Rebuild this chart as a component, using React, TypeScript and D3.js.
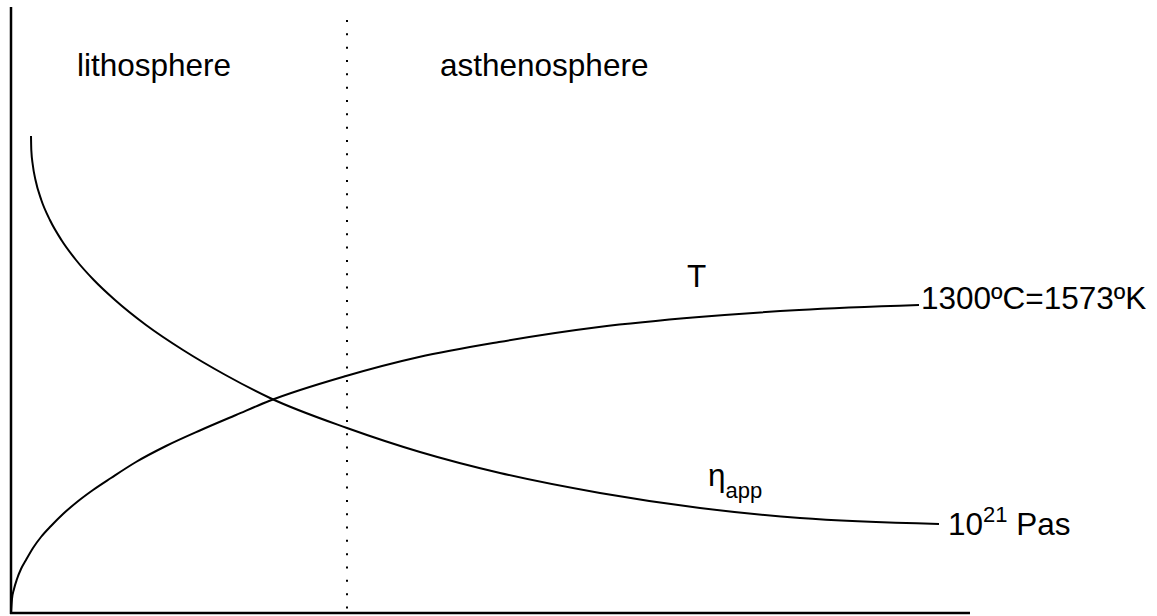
import React from "react";
import * as d3 from "d3";

// Horizontal position (distance from the left axis) and height above the bottom axis.
const tempX = [0, 1, 3, 6, 10, 15, 22, 30, 40, 52, 66, 82, 100, 125, 155, 190, 225, 258, 335, 408, 488, 588, 688, 788, 908];
const tempY = [0, 14, 24, 34, 44, 53, 65, 76, 87, 99, 111, 123, 135, 151, 167, 183, 198, 212, 237, 256, 271, 286, 296, 303, 308];

const viscX = [20, 20.3, 21.8, 24.5, 30.3, 38.9, 50.4, 65, 82.8, 104, 135, 172, 214.5, 259, 336, 409, 489, 589, 689, 789, 928];
const viscY = [477, 463, 448, 433, 413, 393, 373, 353, 333, 313, 288, 263, 238, 215, 185, 161, 140, 120, 105, 95, 89];

const regionLabels = ["lithosphere", "asthenosphere"];
const regionLabelX = [66, 429];
const boundaryX = 336;
const axisLength = 959;
const axisHeight = 606;

const W = 1157;
const H = 616;
const FONT = "'Liberation Sans', Arial, Helvetica, sans-serif";
const FS = 31.5;
const FS_SMALL = 22;

export default function App() {
  const x = d3.scaleLinear().domain([0, 1000]).range([11, 1011]);
  const y = d3.scaleLinear().domain([0, 613]).range([613, 0]);

  const tData = tempX.map((v, i) => [v, tempY[i]] as [number, number]);
  const vData = viscX.map((v, i) => [v, viscY[i]] as [number, number]);

  const line = d3
    .line<[number, number]>()
    .x((d) => x(d[0]))
    .y((d) => y(d[1]))
    .curve(d3.curveMonotoneX);

  const tEnd = tData[tData.length - 1];
  const vEnd = vData[vData.length - 1];

  return (
    <svg
      width={W}
      height={H}
      style={{ position: "absolute", left: 0, top: 0, background: "#fff" }}
      fontFamily={FONT}
    >
      {/* axes */}
      <line x1={x(0)} x2={x(0)} y1={y(axisHeight)} y2={y(-1)} stroke="#000" strokeWidth={2.5} />
      <line x1={x(-1)} x2={x(axisLength)} y1={y(0)} y2={y(0)} stroke="#000" strokeWidth={2.5} />
      {/* boundary */}
      <line
        x1={x(boundaryX)}
        x2={x(boundaryX)}
        y1={y(593)}
        y2={y(3)}
        stroke="#000"
        strokeWidth={2}
        strokeDasharray="2 11.33"
      />
      {regionLabels.map((t, i) => (
        <text key={t} x={x(regionLabelX[i])} y={76} fontSize={FS} fill="#000">
          {t}
        </text>
      ))}
      <path d={line(tData) || ""} fill="none" stroke="#000" strokeWidth={2} />
      <path d={line(vData) || ""} fill="none" stroke="#000" strokeWidth={2} />
      <text x={x(676)} y={287} fontSize={FS} fill="#000">T</text>
      <text x={x(tEnd[0]) + 2} y={y(tEnd[1]) + 4} fontSize={FS} fill="#000">
        1300ºC=1573ºK
      </text>
      <text x={x(697)} y={486} fontSize={FS} fill="#000">
        η
        <tspan fontSize={FS_SMALL} dy={12}>app</tspan>
      </text>
      <text x={x(vEnd[0]) + 9} y={y(vEnd[1]) + 11} fontSize={FS} fill="#000">
        10<tspan fontSize={FS_SMALL} dy={-13}>21</tspan>
        <tspan dy={13}> Pas</tspan>
      </text>
    </svg>
  );
}
